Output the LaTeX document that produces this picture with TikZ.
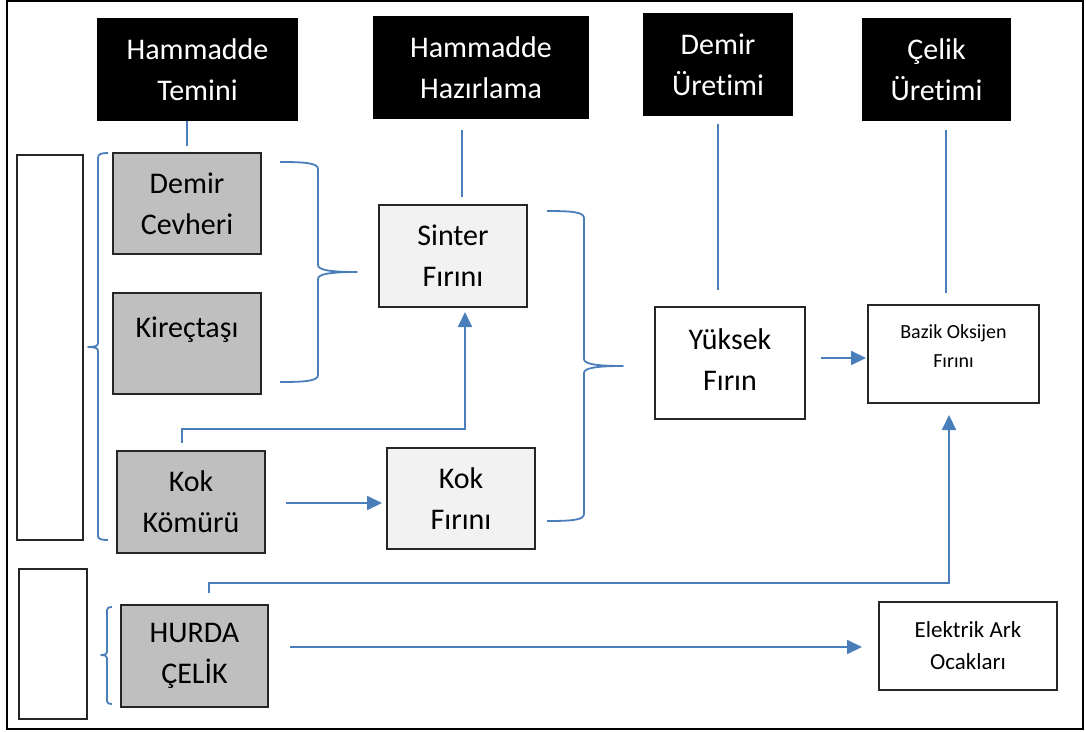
\documentclass[tikz,border=0pt]{standalone}
\usepackage{fontspec}
\setmainfont{Carlito}[RawFeature={-liga;-clig;-calt;-dlig}]
\usetikzlibrary{arrows.meta,calc}
\definecolor{flow}{HTML}{4A7EBB}
\definecolor{rawfill}{HTML}{BFBFBF}
\definecolor{prepfill}{HTML}{F2F2F2}
\definecolor{edge}{HTML}{262626}
\newcommand\maintxt{\fontsize{30}{41}\selectfont}
\newcommand\midtxt{\fontsize{23}{32}\selectfont}
\newcommand\smalltxt{\fontsize{20}{29}\selectfont}

\begin{document}
\begin{tikzpicture}[x=1pt,y=-1pt,
  box/.style={inner sep=0pt, outer sep=0pt, align=center},
  dims/.style 2 args={minimum width=#1, minimum height=#2},
  stage/.style={box, fill=black, text=white, font=\maintxt},
  raw/.style={box, draw=edge, line width=1.3pt, fill=rawfill, font=\maintxt},
  prep/.style={box, draw=edge, line width=1.3pt, fill=prepfill, font=\maintxt},
  unit/.style={box, draw=edge, line width=1.3pt, fill=white},
  blank/.style={draw=edge, line width=1.3pt},
  link/.style={draw=flow, line width=2pt},
  flowarrow/.style={link, -{Triangle[length=15pt,width=14pt]}},
  brace/.style={draw=flow, line width=1.8pt, line join=round},
]
\useasboundingbox (0,0) rectangle (1086,731);
\draw[line width=2pt] (7,1) rectangle (1083,729);

% stage headers
\node[stage, dims={201}{103}] (tem) at (197.5,69.5) {Hammadde\\Temini};
\node[stage, dims={216}{103}] (haz) at (481,67.5) {Hammadde\\Hazırlama};
\node[stage, dims={150}{103}] (dem) at (718,64.5) {Demir\\Üretimi};
\node[stage, dims={149}{103}] (cel) at (936.5,69.5) {Çelik\\Üretimi};

% raw materials
\node[raw, dims={148}{101}] (dc) at (187,203.5) {Demir\\Cevheri};
\node[raw, dims={148}{101}] (kt) at (187,343.5) {\raisebox{14pt}[\height][\depth]{Kireçtaşı}};
\node[raw, dims={148}{102}] (kk) at (191,502) {Kok\\Kömürü};
\node[raw, dims={147}{102}] (hc) at (194.5,656) {HURDA\\ÇELİK};

% preparation units
\node[prep, dims={148}{102}] (sf) at (453,256) {Sinter\\Fırını};
\node[prep, dims={148}{101}] (kf) at (461,498.5) {Kok\\Fırını};

% production units
\node[unit, dims={150}{112}, font=\maintxt] (yf) at (730,363) {\raisebox{3pt}[\height][\depth]{Yüksek}\\\raisebox{3pt}[\height][\depth]{Fırın}};
\node[unit, dims={171}{98}] (bo) at (953.5,354) {};
\node[box, font=\smalltxt] (bo-txt) at ($(bo.center)+(0,-8)$) {Bazik Oksijen\\Fırını};
\node[unit, dims={178}{88}, font=\midtxt] (ea) at (968,646) {Elektrik Ark\\Ocakları};

% empty side boxes
\draw[blank] (17,155) rectangle (83,540);
\draw[blank] (19,569) rectangle (87,719);

% braces
\draw[brace] (108,153) .. controls (101,153) and (98,154) .. (98,158) -- (98,343)
  .. controls (98,346) and (95,347) .. (88,347)
  .. controls (95,347) and (98,348) .. (98,351) -- (98,536)
  .. controls (98,539) and (101,540) .. (108,540);
\draw[brace] (112,607) .. controls (109,607) and (107,607.5) .. (107,610) -- (107,652)
  .. controls (107,654) and (105,655) .. (101,655)
  .. controls (105,655) and (107,656) .. (107,658) -- (107,701)
  .. controls (107,703.5) and (109,704) .. (112,704);
\draw[brace] (280,162) .. controls (305,162) and (318,163) .. (318,169) -- (318,265)
  .. controls (318,270) and (330,272) .. (357,272)
  .. controls (330,272) and (318,274) .. (318,279) -- (318,375)
  .. controls (318,381) and (305,382) .. (280,382);
\draw[brace] (547,211) .. controls (572,211) and (584,212) .. (584,218) -- (584,359)
  .. controls (584,364) and (596,366) .. (623,366)
  .. controls (596,366) and (584,368) .. (584,373) -- (584,514)
  .. controls (584,520) and (572,521) .. (547,521);

% stage guide lines
\draw[link] (tem.south -| dc.north) -- ++(0,25);
\draw[link] ($(haz.south)+(-19,11)$) -- ($(sf.north)+(9,-8)$);
\draw[link] ($(dem.south)+(0,8)$) -- ($(yf.north)+(-12,-17)$);
\draw[link] ($(cel.south)+(9.5,9)$) -- ($(bo.north)+(-7.5,-12)$);

% material flow
\draw[flowarrow] ($(kk.north)+(-9,-8)$) -- ++(0,-14) -| ($(sf.south)+(12,5)$);
\draw[flowarrow] ($(kk.east)+(21,1)$) -- ($(kf.west)+(-5,4.5)$);
\draw[flowarrow] ($(yf.east)+(16,-5)$) -- ($(bo.west)+(-2,4)$);
\draw[flowarrow] ($(hc.north)+(14.5,-12)$) -- ++(0,-10) -| ($(bo.south)+(-4.5,12)$);
\draw[flowarrow] ($(hc.east)+(22,-9)$) -- ($(ea.west)+(-17,1)$);
\end{tikzpicture}
\end{document}
